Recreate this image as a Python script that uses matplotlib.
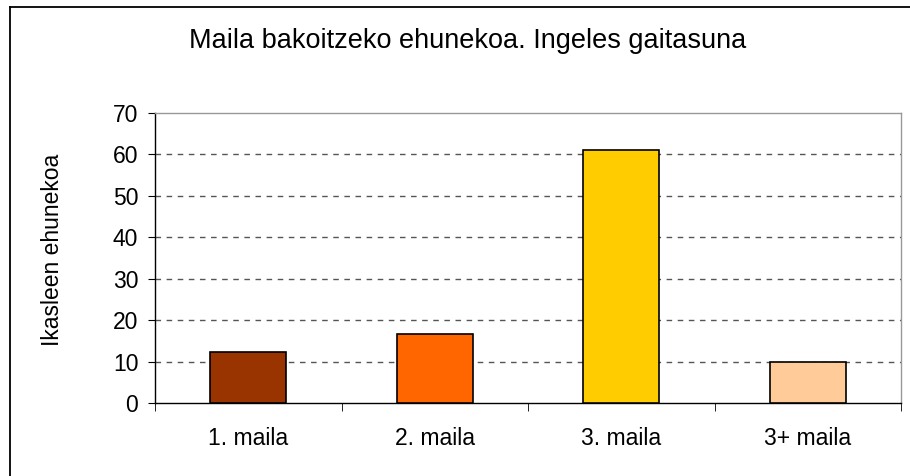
import matplotlib
matplotlib.use("Agg")
import matplotlib.pyplot as plt
from matplotlib.lines import Line2D

categories = ["1. maila", "2. maila", "3. maila", "3+ maila"]
values = [12.4, 16.6, 61.0, 10.0]
colors = ["#993300", "#FF6600", "#FFCC00", "#FFCC99"]
yticks = [0, 10, 20, 30, 40, 50, 60, 70]
title = "Maila bakoitzeko ehunekoa. Ingeles gaitasuna"
ylabel = "Ikasleen ehunekoa"

plt.rcParams['font.family'] = ['Liberation Sans', 'DejaVu Sans']

fig = plt.figure(figsize=(9.1, 4.76), dpi=100)
W, H = 910, 476
ax = fig.add_axes([155 / W, 1 - 403 / H, (901 - 155) / W, (403 - 113) / H])

x = list(range(len(categories)))
ax.bar(x, values, width=0.41, color=colors, edgecolor="black", linewidth=1.2, zorder=3)

ax.set_xlim(-0.5, len(categories) - 0.5)
ax.set_ylim(0, 70)
ax.set_yticks(yticks)
ax.set_yticklabels([str(v) for v in yticks], fontsize=16.5)
ax.set_xticks(x)
ax.set_xticklabels(categories, fontsize=16.5)
ax.tick_params(axis='x', length=0, pad=17)
ax.set_xticks([i - 0.5 for i in range(len(categories) + 1)], minor=True)
ax.tick_params(axis='x', which='minor', length=6, direction='out', color='black')
ax.tick_params(axis='y', length=5, direction='out', color='black', pad=7)

for v in yticks[1:-1]:
    ax.axhline(v, color="#555555", linestyle=(0, (4, 4)), linewidth=1.0, zorder=1)

ax.spines['left'].set_color('black')
ax.spines['bottom'].set_color('black')
ax.spines['top'].set_color('#999999')
ax.spines['right'].set_color('#999999')
for s in ax.spines.values():
    s.set_linewidth(1.0)

fig.text(53 / W, 1 - 250 / H, ylabel, rotation=90, ha='center', va='center', fontsize=16.5)
fig.text(468 / W, 1 - 41 / H, title, ha='center', va='center', fontsize=19.5)

# outer chart frame (top and left edges visible)
fig.lines.append(Line2D([10 / W, 1.0], [1 - 6.5 / H, 1 - 6.5 / H], transform=fig.transFigure,
                        color='black', linewidth=1.3))
fig.lines.append(Line2D([10 / W, 10 / W], [0.0, 1 - 6.5 / H], transform=fig.transFigure,
                        color='black', linewidth=1.3))

fig.savefig("out.png", dpi=100)
